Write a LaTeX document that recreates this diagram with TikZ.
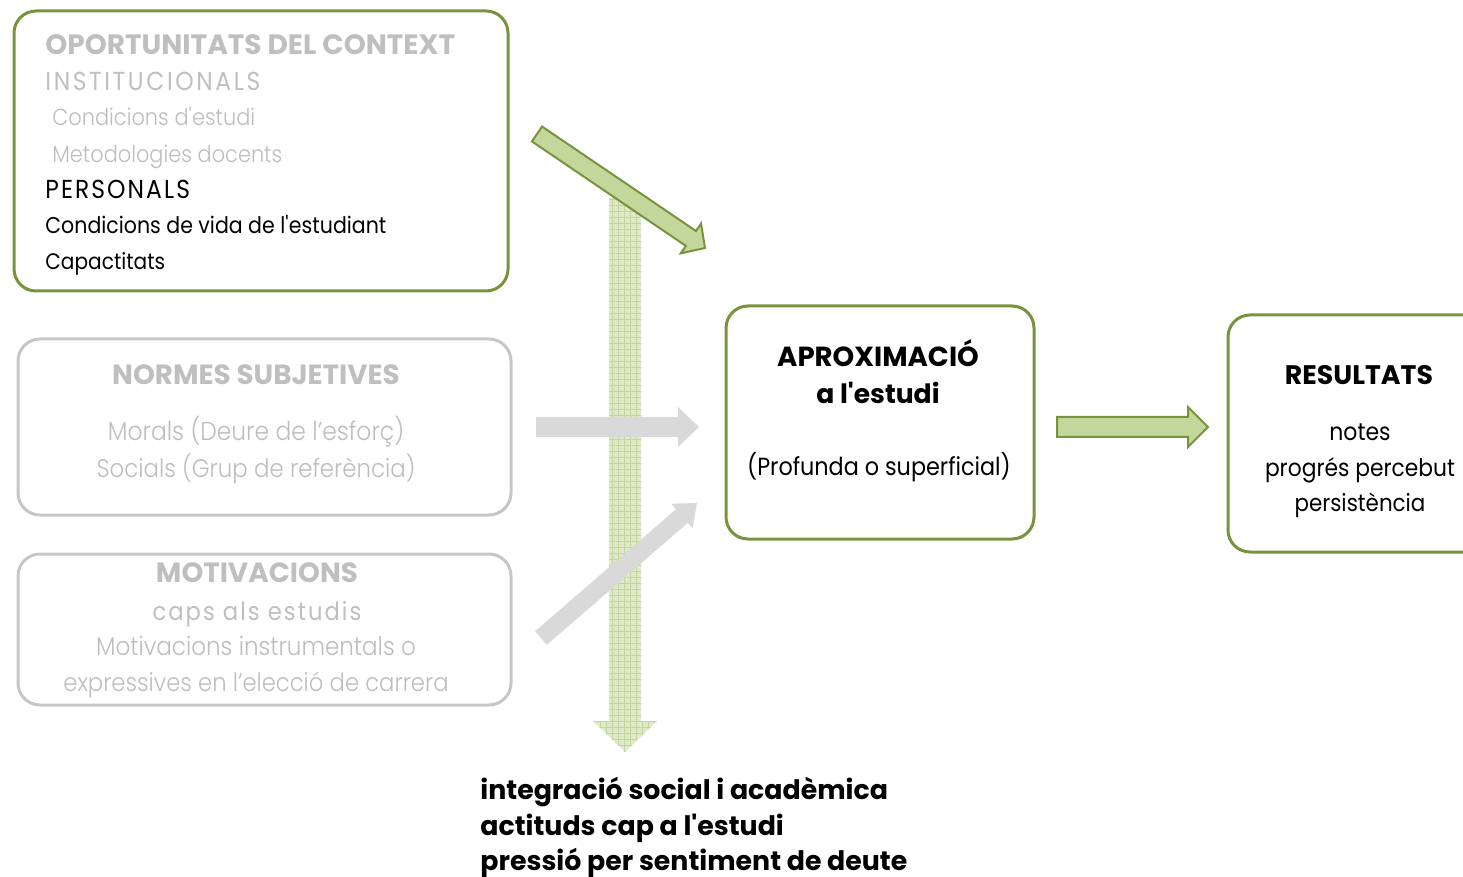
\documentclass[tikz,border=0pt]{standalone}
\usepackage{fontspec}
\setmainfont{Poppins}[FakeStretch=0.9]
\newfontfamily\regf{Poppins}[FakeStretch=0.9]
\newfontfamily\lightf{Poppins Light}[FakeStretch=0.9]
\newfontfamily\boldf{Poppins Bold}
\usetikzlibrary{calc,patterns}
\definecolor{gborder}{HTML}{77933C}
\definecolor{gfill}{HTML}{C3D69B}
\definecolor{hatchL}{HTML}{DDE9C8}
\definecolor{hatchD}{HTML}{C3D69B}
\definecolor{grayB}{HTML}{C6C6C6}
\definecolor{grayT}{HTML}{BFBFBF}
\definecolor{grayL}{HTML}{BDBDBD}
\definecolor{grayA}{HTML}{D9D9D9}
\newcommand\setfs[1]{\fontsize{#1}{#1}\selectfont}
% block arrow: style, from, to, shaft half width, head half width, head length
\newcommand\blockarrow[6]{%
  \coordinate (ba-h) at ($(#3)!#6!(#2)$);
  \path[#1] ($(#2)!#4!90:(#3)$) -- ($(ba-h)!#4!-90:(#2)$) -- ($(ba-h)!#5!-90:(#2)$)
    -- (#3) -- ($(ba-h)!#5!90:(#2)$) -- ($(ba-h)!#4!90:(#2)$) -- ($(#2)!#4!-90:(#3)$) -- cycle;}
\tikzset{
  gbox/.style={draw=gborder, line width=1.5pt, rounded corners=11pt, inner sep=0pt},
  graybox/.style={draw=grayB, line width=1.5pt, rounded corners=11pt, inner sep=0pt},
  tl/.style={inner sep=0pt, anchor=base west},
  tc/.style={inner sep=0pt, anchor=base},
  greenarrow/.style={fill=gfill, draw=gborder, line width=1pt, line join=miter},
  grayarrow/.style={fill=grayA},
}
\begin{document}
\begin{tikzpicture}[x=0.5pt,y=-0.5pt]
\useasboundingbox (0,0) rectangle (1463,877);
\clip (0,0) rectangle (1463,877);

% boxes
\node[gbox, minimum width=247pt, minimum height=140pt] (ctx) at (261,151) {};
\node[graybox, minimum width=246.5pt, minimum height=88pt] (norm) at (264.5,427) {};
\node[graybox, minimum width=246.5pt, minimum height=75.5pt] (motiv) at (264.5,629.5) {};
\node[gbox, minimum width=154pt, minimum height=116.5pt] (aprox) at (880,422.5) {};
\node[gbox, minimum width=236pt, minimum height=118.5pt] (res) at (1464,433.5) {};

% arrow end points
\coordinate (vs) at (625,198);
\coordinate (ve) at (625,752);
\coordinate (d1s) at (537,134);
\coordinate (d1e) at (705,248);
\coordinate (h1s) at (536,427);
\coordinate (h1e) at (699,427);
\coordinate (d2s) at (541,638);
\coordinate (d2e) at (697,503);
\coordinate (h2s) at (1057,427);
\coordinate (h2e) at (1208,427);

% vertical hatched arrow
\blockarrow{fill=hatchL}{vs}{ve}{8pt}{16pt}{15.5pt}
\blockarrow{pattern=grid, pattern color=hatchD}{vs}{ve}{8pt}{16pt}{15.5pt}
% gray arrows
\blockarrow{grayarrow}{h1s}{h1e}{5pt}{10pt}{10.5pt}
\blockarrow{grayarrow}{d2s}{d2e}{4.5pt}{8.2pt}{10pt}
% green arrows
\blockarrow{greenarrow}{d1s}{d1e}{4.5pt}{9pt}{8.5pt}
\blockarrow{greenarrow}{h2s}{h2e}{5pt}{10pt}{10pt}

% box 1 text
\node[tl, font=\boldf\setfs{14}, text=grayT] (t1) at (45,55) {OPORTUNITATS DEL CONTEXT};
\node[tl, font=\regf\setfs{13}\addfontfeature{LetterSpace=10}, text=grayT] (t2) at (45,91) {INSTITUCIONALS};
\node[tl, font=\lightf\setfs{11.6}, text=grayL] (t3) at (52,126) {Condicions d\textquotesingle estudi};
\node[tl, font=\lightf\setfs{11.6}, text=grayL] (t4) at (52,163) {Metodologies docents};
\node[tl, font=\regf\setfs{13}\addfontfeature{LetterSpace=8}] (t5) at (45,199) {PERSONALS};
\node[tl, font=\regf\setfs{11.4}] (t6) at (45,234) {Condicions de vida de l\textquotesingle estudiant};
\node[tl, font=\regf\setfs{11.2}] (t7) at (45,270) {Capactitats};

% box 2 text
\node[tc, font=\boldf\setfs{13.9}, text=grayT] (n1) at (256,385) {NORMES SUBJETIVES};
\node[tc, font=\lightf\setfs{13}, text=grayL] (n2) at (256,440) {Morals (Deure de l’esforç)};
\node[tc, font=\lightf\setfs{12.7}, text=grayL] (n3) at (256,477) {Socials (Grup de referència)};

% box 3 text
\node[tc, font=\boldf\setfs{13.9}, text=grayT] (m1) at (257,582) {MOTIVACIONS};
\node[tc, font=\regf\setfs{12.6}\addfontfeature{LetterSpace=8}, text=grayT] (m2) at (257,620) {caps als estudis};
\node[tc, font=\lightf\setfs{12.8}, text=grayL] (m3) at (256,655) {Motivacions instrumentals o};
\node[tc, font=\lightf\setfs{12.6}, text=grayL] (m4) at (256,691) {expressives en l’elecció de carrera};

% box 4 text
\node[tc, font=\boldf\setfs{13.8}] (a1) at (878,367) {APROXIMACIÓ};
\node[tc, font=\boldf\setfs{13.3}] (a2) at (878,404) {a l\textquotesingle estudi};
\node[tc, font=\regf\setfs{12.4}] (a3) at (879,475) {(Profunda o superficial)};

% box 5 text
\node[tc, font=\boldf\setfs{13.4}] (r1) at (1359,385) {RESULTATS};
\node[tc, font=\regf\setfs{12.2}] (r2) at (1360,440) {notes};
\node[tc, font=\regf\setfs{12.1}] (r3) at (1360,476) {progrés percebut};
\node[tc, font=\regf\setfs{11.9}] (r4) at (1360,511) {persistència};

% bottom text
\node[tl, font=\boldf\setfs{13.4}] (b1) at (480,799) {integració social i acadèmica};
\node[tl, font=\boldf\setfs{13.4}] (b2) at (480,835) {actituds cap a l\textquotesingle estudi};
\node[tl, font=\boldf\setfs{13.4}] (b3) at (480,870) {pressió per sentiment de deute};
\end{tikzpicture}
\end{document}
